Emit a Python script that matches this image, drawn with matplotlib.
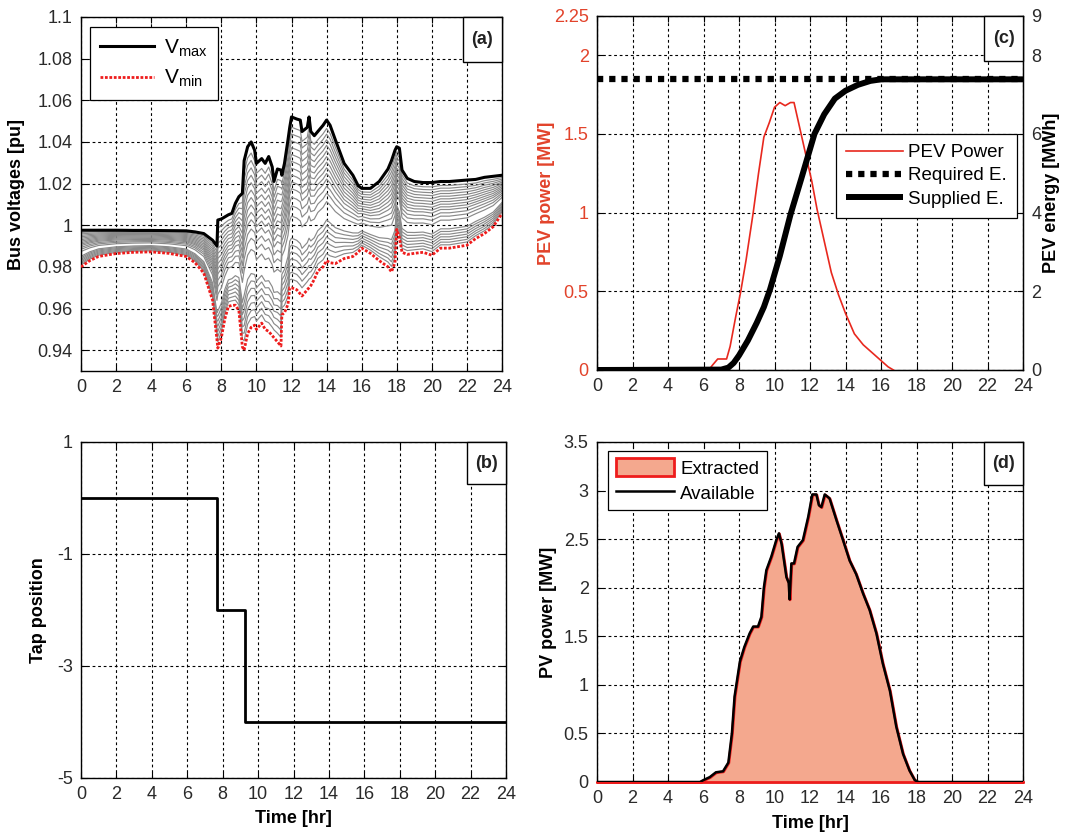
import matplotlib
matplotlib.use("Agg")
import numpy as np
import matplotlib.pyplot as plt
from matplotlib.patches import Rectangle, Patch

plt.rcParams['font.family'] = ['Liberation Sans', 'DejaVu Sans']
plt.rcParams['mathtext.fontset'] = 'custom'
plt.rcParams['mathtext.rm'] = 'Liberation Sans'
plt.rcParams['mathtext.it'] = 'Liberation Sans:italic'
plt.rcParams['mathtext.bf'] = 'Liberation Sans:bold'

# ---------------- data ----------------
hour_ticks = list(range(0, 25, 2))

# (a) bus voltage envelope [pu]
v_time = [0, 0.5, 1, 2, 3, 4, 5, 6, 6.5, 7, 7.5, 7.75, 7.8, 8.0, 8.2, 8.4, 8.6, 8.8,
          9.0, 9.2, 9.3, 9.5, 9.7, 9.9, 10.0, 10.3, 10.5, 10.7, 10.9, 11.0, 11.2,
          11.4, 11.45, 11.6, 11.8, 11.9, 12.0, 12.3, 12.5, 12.6, 12.9, 13.0, 13.1,
          13.3, 13.5, 13.8, 14.0, 14.2, 14.5, 15.0, 15.5, 15.8, 16.0, 16.5, 17.0,
          17.5, 17.7, 17.9, 18.0, 18.15, 18.3, 18.6, 19.0, 19.5, 20.0, 20.5, 21.0,
          22.0, 22.5, 23.0, 23.5, 24.0]
v_max = [0.9976, 0.9976, 0.9976, 0.9976, 0.9975, 0.9975, 0.9974, 0.9973, 0.9968,
         0.996, 0.9928, 0.990, 1.0025, 1.003, 1.004, 1.005, 1.0057, 1.0105,
         1.0137, 1.0153, 1.031, 1.0377, 1.040, 1.036, 1.0297, 1.032, 1.0297,
         1.033, 1.028, 1.021, 1.027, 1.0265, 1.024, 1.0297, 1.041, 1.047, 1.052,
         1.051, 1.0505, 1.045, 1.047, 1.052, 1.045, 1.043, 1.045, 1.048, 1.0505,
         1.048, 1.041, 1.0297, 1.024, 1.019, 1.0177, 1.0177, 1.021, 1.027, 1.031,
         1.036, 1.0377, 1.037, 1.0265, 1.0225, 1.021, 1.0205, 1.0205, 1.021,
         1.021, 1.0217, 1.022, 1.023, 1.0235, 1.024]
v_min = [0.980, 0.983, 0.985, 0.9864, 0.987, 0.9872, 0.9865, 0.985, 0.982, 0.977,
         0.964, 0.945, 0.941, 0.946, 0.955, 0.961, 0.9615, 0.9616, 0.959, 0.9416,
         0.940, 0.948, 0.951, 0.952, 0.950, 0.953, 0.950, 0.949, 0.947, 0.946,
         0.944, 0.942, 0.957, 0.958, 0.962, 0.970, 0.970, 0.969, 0.967, 0.966,
         0.969, 0.970, 0.971, 0.974, 0.978, 0.980, 0.983, 0.982, 0.9816, 0.984,
         0.985, 0.987, 0.989, 0.9865, 0.983, 0.980, 0.9776, 0.982, 0.998, 0.994,
         0.987, 0.986, 0.9865, 0.987, 0.9856, 0.989, 0.989, 0.9904, 0.9936, 0.996,
         0.9993, 1.0056]
# relative electrical position of the intermediate buses between the extremes
bus_position = [0.05, 0.09, 0.13, 0.17, 0.21, 0.25, 0.29, 0.42, 0.48, 0.53, 0.58,
                0.62, 0.66, 0.70, 0.74, 0.78, 0.82, 0.86, 0.90, 0.94]

# (b) OLTC tap position
tap_time = [0, 7.7, 9.25, 24]
tap_pos = [0, -2, -4, -4]

# (c) PEV charging
pev_time = [0, 6.3, 6.5, 6.8, 7.3, 7.5, 7.8, 8.1, 8.4, 8.8, 9.1, 9.4, 9.7, 10.0,
            10.3, 10.6, 10.9, 11.1, 11.3, 11.5, 11.8, 12.1, 12.4, 12.8, 13.2, 13.6,
            14.0, 14.5, 15.0, 15.5, 16.0, 16.4, 16.7]
pev_power = [0, 0, 0.03, 0.07, 0.07, 0.15, 0.33, 0.50, 0.70, 1.00, 1.25, 1.48,
             1.57, 1.67, 1.70, 1.68, 1.70, 1.70, 1.60, 1.50, 1.35, 1.20, 1.02, 0.82,
             0.62, 0.48, 0.36, 0.23, 0.16, 0.11, 0.06, 0.02, 0]
required_energy = 7.39
energy_time = [0, 7.0, 7.4, 7.7, 8.0, 8.5, 9.0, 9.4, 9.75, 10.3, 10.9, 11.5,
               12.25, 12.8, 13.4, 14.0, 14.7, 15.4, 16.0, 24]
supplied_energy = [0, 0.01, 0.06, 0.18, 0.37, 0.75, 1.2, 1.6, 2.05, 2.9, 3.95,
                   4.85, 6.0, 6.5, 6.9, 7.1, 7.25, 7.35, 7.39, 7.39]

# (d) PV generation
pv_time = [0, 5.8, 6.0, 6.35, 6.7, 7.1, 7.4, 7.6, 7.75, 8.05, 8.3, 8.6, 8.8, 9.07,
           9.26, 9.4, 9.54, 9.82, 10.1, 10.25, 10.4, 10.67, 10.8, 10.85, 10.95,
           11.1, 11.3, 11.6, 11.9, 12.13, 12.36, 12.5, 12.64, 12.83, 13.1, 13.5,
           13.86, 14.23, 14.6, 14.99, 15.36, 15.74, 16.1, 16.5, 16.86, 17.24, 17.6,
           17.9, 18.1, 24]
pv_power = [0, 0, 0.02, 0.05, 0.10, 0.11, 0.20, 0.50, 0.88, 1.24, 1.39, 1.53, 1.60,
            1.60, 1.70, 2.00, 2.18, 2.32, 2.49, 2.56, 2.45, 2.11, 2.05, 1.88, 2.25,
            2.25, 2.42, 2.49, 2.73, 2.96, 2.96, 2.85, 2.83, 2.96, 2.92, 2.69, 2.49,
            2.28, 2.14, 1.94, 1.77, 1.53, 1.22, 0.94, 0.57, 0.29, 0.12, 0.02, 0, 0]

# ---------------- styling helpers ----------------
W, H = 1076, 835
TICK_COLOR = '#2a2a2a'
RED_TXT = '#E2432B'
FS = 13


def px_rect(left, top, right, bottom):
    return [left / W, 1 - bottom / H, (right - left) / W, (bottom - top) / H]


def style_axes(ax, yticks, ylim, label_color=TICK_COLOR):
    ax.set_xlim(0, 24)
    ax.set_xticks(hour_ticks)
    ax.set_ylim(*ylim)
    ax.set_yticks(yticks)
    ax.set_yticklabels(['%g' % v for v in yticks])
    ax.grid(True, color='black', linestyle=(0, (2.5, 2.5)), linewidth=0.8)
    ax.tick_params(direction='in', length=4, labelsize=FS, pad=6,
                   top=True, right=True)
    ax.tick_params(axis='x', colors='black', labelcolor=TICK_COLOR)
    ax.tick_params(axis='y', colors='black', labelcolor=label_color)
    for s in ax.spines.values():
        s.set_linewidth(1.0)
        s.set_color('black')


def panel_tag(ax, text, w_px, h_px):
    bbox = ax.get_position()
    wf = w_px / (bbox.width * W)
    hf = h_px / (bbox.height * H)
    ax.add_patch(Rectangle((1 - wf, 1 - hf), wf, hf, transform=ax.transAxes,
                           facecolor='white', edgecolor='black', linewidth=1.0,
                           zorder=5, clip_on=False))
    ax.text(1 - wf / 2, 1 - hf / 2, text, transform=ax.transAxes, ha='center',
            va='center', fontsize=FS, fontweight='bold', color='#222222', zorder=6)


fig = plt.figure(figsize=(W / 100, H / 100), dpi=100)
fig.patch.set_facecolor('white')

# ---------------- (a) bus voltages ----------------
ax_a = fig.add_axes(px_rect(81, 17, 502, 371))
vt = np.array(v_time)
vmax = np.array(v_max)
vmin = np.array(v_min)
for w in bus_position:
    ax_a.plot(vt, vmin + w * (vmax - vmin), color='#8a8a8a', linewidth=0.85, zorder=2)
l_max, = ax_a.plot(vt, vmax, color='black', linewidth=2.2, zorder=3)
l_min, = ax_a.plot(vt, vmin, color='#EE1C1C', linewidth=2.0,
                   linestyle=(0, (1, 0.6)), zorder=3)
style_axes(ax_a, [0.94, 0.96, 0.98, 1.0, 1.02, 1.04, 1.06, 1.08, 1.1], (0.93, 1.1))
ax_a.set_ylabel('Bus voltages [pu]', fontsize=FS, fontweight='bold')
ax_a.yaxis.set_label_coords(-0.133, 0.5)
leg_a = ax_a.legend([l_max, l_min], [r'V$_{\mathrm{max}}$', r'V$_{\mathrm{min}}$'],
                    loc='upper left', bbox_to_anchor=(0.021, 0.972), borderaxespad=0,
                    fontsize=15, handlelength=2.6, handletextpad=0.45,
                    labelspacing=0.45, borderpad=0.5, fancybox=False,
                    edgecolor='black', framealpha=1)
leg_a.get_frame().set_linewidth(0.9)
panel_tag(ax_a, '(a)', 39, 45)

# ---------------- (b) tap position ----------------
ax_b = fig.add_axes(px_rect(81, 442, 506, 778))
ax_b.plot(tap_time, tap_pos, drawstyle='steps-post', color='black', linewidth=2.0,
          zorder=3)
style_axes(ax_b, [1, -1, -3, -5], (-5, 1))
ax_b.set_ylabel('Tap position', fontsize=FS, fontweight='bold')
ax_b.yaxis.set_label_coords(-0.08, 0.5)
ax_b.set_xlabel('Time [hr]', fontsize=FS, fontweight='bold')
ax_b.xaxis.set_label_coords(0.5, -0.095)
panel_tag(ax_b, '(b)', 39, 42)

# ---------------- (c) PEV power and energy ----------------
ax_c = fig.add_axes(px_rect(597, 16, 1023, 370))
l_pev, = ax_c.plot(pev_time, pev_power, color='#E8281E', linewidth=1.2, zorder=3)
style_axes(ax_c, [0, 0.5, 1, 1.5, 2, 2.25], (0, 2.25), label_color=RED_TXT)
ax_c.tick_params(right=False)
ax_c.set_ylabel('PEV power [MW]', fontsize=FS, fontweight='bold', color=RED_TXT)
ax_c.yaxis.set_label_coords(-0.099, 0.5)

ax_c2 = ax_c.twinx()
ax_c2.set_ylim(0, 9)
ax_c2.set_yticks([0, 2, 4, 6, 8, 9])
ax_c2.set_yticklabels(['0', '2', '4', '6', '8', '9'])
ax_c2.tick_params(direction='in', length=4, labelsize=FS, pad=6, colors='black',
                  labelcolor=TICK_COLOR)
l_req, = ax_c2.plot([0, 24], [required_energy, required_energy], color='black',
                    linewidth=4.5, linestyle=(0, (1, 0.95)), zorder=3)
l_sup, = ax_c2.plot(energy_time, supplied_energy, color='black', linewidth=4.3,
                    zorder=4, solid_capstyle='butt')
ax_c2.set_ylabel('PEV energy [MWh]', fontsize=FS, fontweight='bold', color='black')
ax_c2.yaxis.set_label_coords(1.047, 0.5)
leg_c = ax_c2.legend([l_pev, l_req, l_sup], ['PEV Power', 'Required E.', 'Supplied E.'],
                     loc='upper left', bbox_to_anchor=(0.561, 0.667), borderaxespad=0,
                     fontsize=13.5, handlelength=3.0, handletextpad=0.3,
                     labelspacing=0.32, borderpad=0.55, fancybox=False,
                     edgecolor='black', framealpha=1)
leg_c.get_frame().set_linewidth(0.9)
leg_c.set_zorder(10)
panel_tag(ax_c2, '(c)', 39, 45)

# ---------------- (d) PV power ----------------
ax_d = fig.add_axes(px_rect(597, 442, 1023, 782))
ax_d.fill_between(pv_time, pv_power, 0, facecolor='#F4A88E', edgecolor='#EE1C1C',
                  linewidth=2.0, zorder=3, clip_on=False)
l_av, = ax_d.plot(pv_time, pv_power, color='black', linewidth=1.8, zorder=4)
style_axes(ax_d, [0, 0.5, 1, 1.5, 2, 2.5, 3, 3.5], (0, 3.5))
ax_d.set_ylabel('PV power [MW]', fontsize=FS, fontweight='bold')
ax_d.yaxis.set_label_coords(-0.094, 0.5)
ax_d.set_xlabel('Time [hr]', fontsize=FS, fontweight='bold')
ax_d.xaxis.set_label_coords(0.5, -0.097)
ext_patch = Patch(facecolor='#F4A88E', edgecolor='#EE1C1C', linewidth=2.0)
leg_d = ax_d.legend([ext_patch, l_av], ['Extracted', 'Available'], loc='upper left',
                    bbox_to_anchor=(0.026, 0.974), borderaxespad=0, fontsize=13.5,
                    handlelength=3.1, handleheight=1.1, handletextpad=0.35,
                    labelspacing=0.3, borderpad=0.4, fancybox=False,
                    edgecolor='black', framealpha=1)
leg_d.get_frame().set_linewidth(0.9)
leg_d.set_zorder(10)
panel_tag(ax_d, '(d)', 39, 43)

fig.savefig('out.png', dpi=100, facecolor='white')
